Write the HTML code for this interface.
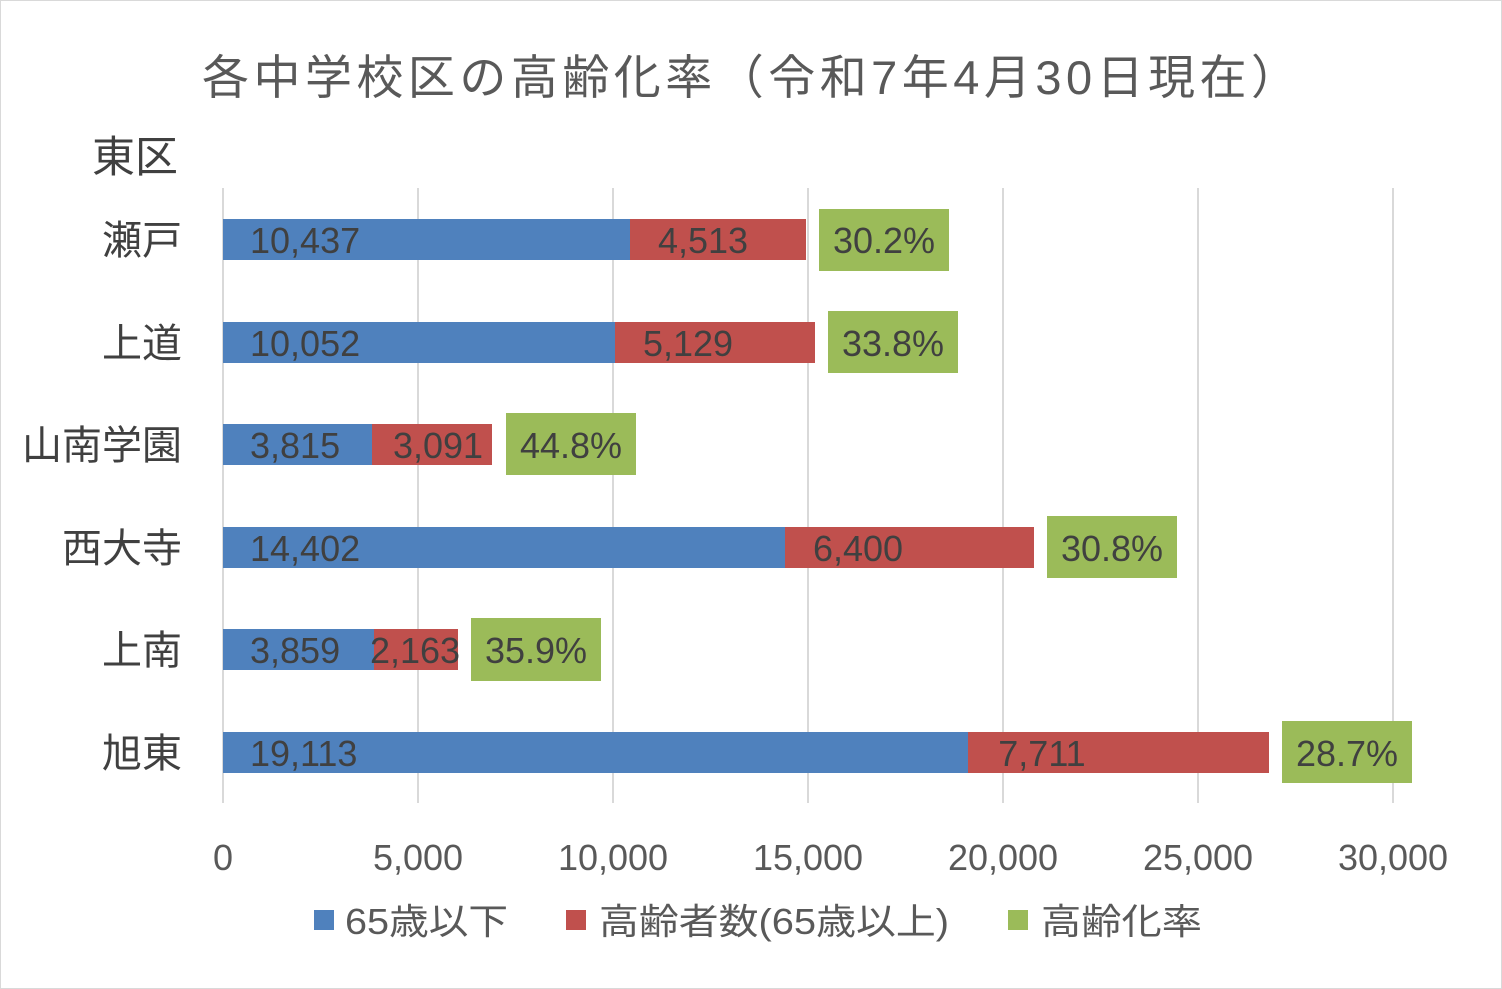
<!DOCTYPE html>
<html><head><meta charset="utf-8"><style>
html,body{margin:0;padding:0;background:#fff}
svg{display:block}
text{font-family:"Liberation Sans","Noto Sans CJK JP",sans-serif}
</style></head><body>
<svg width="1502" height="989" viewBox="0 0 1502 989" xmlns="http://www.w3.org/2000/svg">
<rect x="0.5" y="0.5" width="1501" height="988" fill="#fff" stroke="#d9d9d9"/>
<text x="202" y="94" font-size="47" fill="#595959" textLength="1096" lengthAdjust="spacing">各中学校区の高齢化率（令和7年4月30日現在）</text>
<text x="92" y="172" font-size="43" fill="#404040">東区</text>
<g stroke="#d9d9d9" stroke-width="2">
<line x1="223" y1="188" x2="223" y2="803"/><line x1="418" y1="188" x2="418" y2="803"/>
<line x1="613" y1="188" x2="613" y2="803"/><line x1="808" y1="188" x2="808" y2="803"/>
<line x1="1003" y1="188" x2="1003" y2="803"/><line x1="1198" y1="188" x2="1198" y2="803"/>
<line x1="1393" y1="188" x2="1393" y2="803"/>
</g>
<g font-size="36" fill="#595959" text-anchor="middle">
<text x="223" y="870">0</text><text x="418" y="870">5,000</text><text x="613" y="870">10,000</text>
<text x="808" y="870">15,000</text><text x="1003" y="870">20,000</text><text x="1198" y="870">25,000</text><text x="1393" y="870">30,000</text>
</g>
<g font-size="40" fill="#404040" text-anchor="end">
<text x="182" y="254">瀬戸</text><text x="182" y="357">上道</text><text x="182" y="459">山南学園</text>
<text x="182" y="562">西大寺</text><text x="182" y="664">上南</text><text x="182" y="767">旭東</text>
</g>
<g font-size="36" fill="#404040">
<rect x="223" y="219" width="407" height="41" fill="#4f81bd"/><rect x="630" y="219" width="176" height="41" fill="#c0504d"/>
<rect x="819" y="209" width="130" height="62" fill="#9bbb59"/>
<text x="250" y="253">10,437</text><text x="703" y="253" text-anchor="middle">4,513</text><text x="884" y="253" text-anchor="middle">30.2%</text>
<rect x="223" y="322" width="392" height="41" fill="#4f81bd"/><rect x="615" y="322" width="200" height="41" fill="#c0504d"/>
<rect x="828" y="311" width="130" height="62" fill="#9bbb59"/>
<text x="250" y="356">10,052</text><text x="688" y="356" text-anchor="middle">5,129</text><text x="893" y="356" text-anchor="middle">33.8%</text>
<rect x="223" y="424" width="149" height="41" fill="#4f81bd"/><rect x="372" y="424" width="120" height="41" fill="#c0504d"/>
<rect x="506" y="413" width="130" height="62" fill="#9bbb59"/>
<text x="250" y="458">3,815</text><text x="438" y="458" text-anchor="middle">3,091</text><text x="571" y="458" text-anchor="middle">44.8%</text>
<rect x="223" y="527" width="562" height="41" fill="#4f81bd"/><rect x="785" y="527" width="249" height="41" fill="#c0504d"/>
<rect x="1047" y="516" width="130" height="62" fill="#9bbb59"/>
<text x="250" y="561">14,402</text><text x="858" y="561" text-anchor="middle">6,400</text><text x="1112" y="561" text-anchor="middle">30.8%</text>
<rect x="223" y="629" width="151" height="41" fill="#4f81bd"/><rect x="374" y="629" width="84" height="41" fill="#c0504d"/>
<rect x="471" y="618" width="130" height="63" fill="#9bbb59"/>
<text x="250" y="663">3,859</text><text x="415" y="663" text-anchor="middle">2,163</text><text x="536" y="663" text-anchor="middle">35.9%</text>
<rect x="223" y="732" width="745" height="41" fill="#4f81bd"/><rect x="968" y="732" width="301" height="41" fill="#c0504d"/>
<rect x="1282" y="721" width="130" height="62" fill="#9bbb59"/>
<text x="250" y="766">19,113</text><text x="1042" y="766" text-anchor="middle">7,711</text><text x="1347" y="766" text-anchor="middle">28.7%</text>
</g>
<g font-size="36" fill="#595959">
<rect x="314" y="910" width="20" height="20" fill="#4f81bd"/><text x="345" y="934" textLength="163" lengthAdjust="spacingAndGlyphs">65歳以下</text>
<rect x="566" y="910" width="20" height="20" fill="#c0504d"/><text x="599" y="934" textLength="350" lengthAdjust="spacingAndGlyphs">高齢者数(65歳以上)</text>
<rect x="1008" y="910" width="20" height="20" fill="#9bbb59"/><text x="1041" y="934" textLength="161" lengthAdjust="spacingAndGlyphs">高齢化率</text>
</g>
</svg>
</body></html>
